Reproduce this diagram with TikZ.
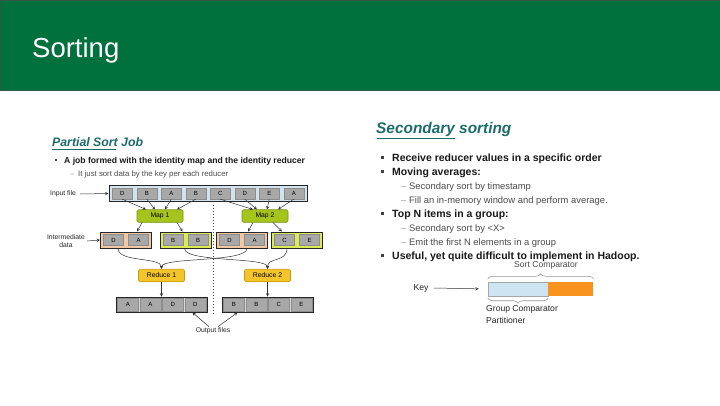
\documentclass[tikz,border=0pt]{standalone}
\usepackage{fontspec}
\setmainfont{Liberation Sans}
\usetikzlibrary{decorations.pathreplacing}

\definecolor{header green}{HTML}{00703C}
\definecolor{header edge}{HTML}{2E5A45}
\definecolor{heading teal}{HTML}{1E6B6B}
\definecolor{bar blue}{HTML}{D3E3EE}
\definecolor{cell gray}{HTML}{A8A8A8}
\definecolor{map green}{HTML}{A6C51C}
\definecolor{map edge}{HTML}{7A9410}
\definecolor{peach}{HTML}{F2C8A4}
\definecolor{lime}{HTML}{D9EC55}
\definecolor{reduce yellow}{HTML}{F4C52A}
\definecolor{reduce edge}{HTML}{C89A10}
\definecolor{key blue}{HTML}{CDE4F2}
\definecolor{key orange}{HTML}{F7931E}
\colorlet{bar edge}{black!85}
\colorlet{cell edge}{black!45}
\colorlet{sub text}{black!70}

\newcommand\diagfont{\fontsize{6.8}{7.6}\selectfont}
\newcommand\cellfont{\fontsize{6}{7}\selectfont}
\newcommand\pointfont{\fontsize{10.5}{12}\selectfont\bfseries}
\newcommand\subpointfont{\fontsize{9.4}{11}\selectfont}
\newcommand\keyfont{\fontsize{8.6}{12}\selectfont}

\tikzset{
  cell/.style={fill=cell gray, draw=cell edge, minimum width=20pt, minimum height=11pt, inner sep=0pt, font=\cellfont},
  bar/.style={draw=bar edge, line width=1pt, inner sep=0pt, minimum height=16pt},
  jobbox/.style={rounded corners=1.5pt, line width=0.6pt, minimum width=46pt, minimum height=12.5pt, inner sep=0pt, font=\diagfont},
  flow/.style={draw=black!80, line width=0.5pt, -stealth},
  lbl/.style={font=\diagfont, inner sep=1pt, text=black!85},
  point/.style={anchor=base west, inner sep=0pt, font=\pointfont, text=black!90},
  subpoint/.style={anchor=base west, inner sep=0pt, font=\subpointfont, text=sub text}
  }
\tikzstyle{bulletmark}=[fill=black!75]
\tikzstyle{brace}=[draw=black!40, line width=0.6pt, decorate, decoration={brace, amplitude=5pt}]

\begin{document}
\begin{tikzpicture}[x=1pt, y=-1pt]
  \useasboundingbox (0,0) rectangle (720,405);
  \fill[white] (0,0) rectangle (720,405);

  % header
  \fill[header green, draw=header edge, line width=1pt] (0,0) rectangle (720,90);
  \node[anchor=base west, inner sep=0pt, text=white, font=\fontsize{27.5}{32}\selectfont] (title) at (32,57) {Sorting};

  % left panel text
  \node[anchor=base west, inner sep=0pt, text=heading teal, font=\fontsize{12.3}{15}\selectfont\bfseries\itshape] (partial) at (52,146) {Partial Sort Job};
  \draw[heading teal, line width=1pt] (52,149.5) -- (116,149.5);
  \fill[bulletmark] (54.5,158.5) rectangle (57,161);
  \node[anchor=base west, inner sep=0pt, font=\fontsize{8.6}{10}\selectfont\bfseries, text=black!90] (job) at (64,163.5) {A job formed with the identity map and the identity reducer};
  \node[subpoint, font=\fontsize{7.8}{9}\selectfont, text=black!40] (dash0) at (70,176) {--};
  \node[subpoint, font=\fontsize{7.8}{9}\selectfont] (sortdata) at (78,176) {It just sort data by the key per each reducer};

  % input file
  \node[lbl] (inlbl) at (63,194) {Input file};
  \node[bar, fill=bar blue, minimum width=198pt] (input) at (208,193.5) {};
  \foreach \i/\l in {1/D, 2/B, 3/A, 4/B, 5/C, 6/D, 7/E, 8/A} {
    \node[cell] (in\i) at ({97.75+24.5*\i},193.5) {\l};
  }
  \draw[flow] (inlbl.east) ++(3,0) -- (input.west);

  % maps
  \node[jobbox, fill=map green, draw=map edge] (map1) at (160,216) {Map 1};
  \node[jobbox, fill=map green, draw=map edge] (map2) at (265,216) {Map 2};
  \foreach \i/\s in {1/-14, 2/-5, 3/5, 4/17} {
    \draw[flow] (in\i.south) -- ([xshift=\s pt]map1.north);
  }
  \foreach \i/\s in {5/-12, 6/-8, 7/2, 8/13} {
    \draw[flow] (in\i.south) -- ([xshift=\s pt]map2.north);
  }

  \draw[dotted, line width=1pt, black!70] (213,205) -- (213,314);

  % intermediate data
  \node[lbl, align=center] (midlbl) at (66,241) {Intermediate\\data};
  \foreach \n/\x/\c/\a/\b in {g1/126/peach/D/A, g2/185.5/lime/B/B, g3/242/peach/D/A, g4/297/lime/C/E} {
    \node[bar, fill=\c, minimum width=51pt] (\n) at (\x,240) {};
    \node[cell] (\n-l) at ({\x-12.5},240) {\a};
    \node[cell] (\n-r) at ({\x+12.5},240) {\b};
  }
  \draw[flow] (midlbl.east) ++(1,0) -- (g1.west);
  \draw[flow] ([xshift=-18pt]map1.south) -- ([xshift=11pt]g1.north);
  \draw[flow] ([xshift=17pt]map1.south) -- ([xshift=-3pt]g2.north);
  \draw[flow] ([xshift=-12pt]map2.south) -- ([xshift=6pt]g3.north);
  \draw[flow] ([xshift=8pt]map2.south) -- ([xshift=-15pt]g4.north);

  % reduces
  \node[jobbox, fill=reduce yellow, draw=reduce edge] (red1) at (161.5,275.5) {Reduce 1};
  \node[jobbox, fill=reduce yellow, draw=reduce edge] (red2) at (267.5,275.5) {Reduce 2};
  \draw[flow] ([xshift=-8pt]g1.south) .. controls +(0,14) and +(0,-12) .. (red1.north);
  \draw[flow] ([xshift=5pt]g3.south) .. controls +(0,14) and +(0,-12) .. (red1.north);
  \draw[flow] ([xshift=-1pt]g2.south) .. controls +(0,14) and +(0,-12) .. (red2.north);
  \draw[flow] ([xshift=-10pt]g4.south) .. controls +(0,14) and +(0,-12) .. (red2.north);

  % output files
  \foreach \n/\x/\ll/\lr/\rl/\rr in {out1/161.5/A/A/D/D, out2/267.5/B/B/C/E} {
    \node[bar, fill=black!15, minimum width=91pt, minimum height=15pt] (\n) at (\x,304.5) {};
    \node[cell, minimum width=21pt, minimum height=12.5pt] (\n-1) at ({\x-33.75},304.5) {\ll};
    \node[cell, minimum width=21pt, minimum height=12.5pt] (\n-2) at ({\x-11.25},304.5) {\lr};
    \node[cell, minimum width=21pt, minimum height=12.5pt] (\n-3) at ({\x+11.25},304.5) {\rl};
    \node[cell, minimum width=21pt, minimum height=12.5pt] (\n-4) at ({\x+33.75},304.5) {\rr};
  }
  \draw[flow] (red1) -- (out1);
  \draw[flow] (red2) -- (out2);
  \node[lbl] (outlbl) at (213,331) {Output files};
  \draw[flow] ([xshift=-4pt]outlbl.north) -- ([xshift=-15pt]out1.south east);
  \draw[flow] ([xshift=5pt]outlbl.north) -- ([xshift=16pt]out2.south west);

  % right panel text
  \node[anchor=base west, inner sep=0pt, text=heading teal, font=\fontsize{15.4}{18}\selectfont\bfseries\itshape] (secondary) at (376,133.5) {Secondary sorting};
  \draw[heading teal, line width=1pt] (377,138.5) -- (455,138.5);
  \foreach \y/\name/\txt in {161.5/recv/Receive reducer values in a specific order, 175.5/moving/Moving averages:, 217.5/topn/Top N items in a group:, 259.5/useful/{Useful, yet quite difficult to implement in Hadoop.}} {
    \fill[bulletmark] (381,\y-6) rectangle (384,\y-3);
    \node[point] (\name) at (392,\y) {\txt};
  }
  \foreach \y/\name/\txt in {189/bytime/Secondary sort by timestamp, 203/window/Fill an in-memory window and perform average., 231/byx/Secondary sort by <X>, 245/emit/Emit the first N elements in a group} {
    \node[subpoint, text=black!40] (\name-dash) at (401,\y) {--};
    \node[subpoint] (\name) at (409,\y) {\txt};
  }

  % key layout
  \node[draw=black!35, fill=key blue, minimum width=60pt, minimum height=14pt, inner sep=0pt] (natkey) at (518,289) {};
  \node[fill=key orange, minimum width=45pt, minimum height=14pt, inner sep=0pt, anchor=west] (valkey) at (natkey.east) {};
  \node[lbl, font=\keyfont] (key) at (421,288) {Key};
  \draw[flow, shorten >=9pt] (key.east) ++(4,0) -- (natkey.west);
  \draw[brace] ([yshift=3pt]natkey.north west) -- ([yshift=3pt]valkey.north east);
  \node[lbl, font=\keyfont, text=black!70] (sortcmp) at (546,265.5) {Sort Comparator};
  \draw[brace] ([yshift=-2pt]natkey.south east) -- ([yshift=-2pt]natkey.south west);
  \node[lbl, font=\keyfont, align=left, anchor=north west] (groupcmp) at (485,304.5) {Group Comparator\\Partitioner};

\end{tikzpicture}
\end{document}
